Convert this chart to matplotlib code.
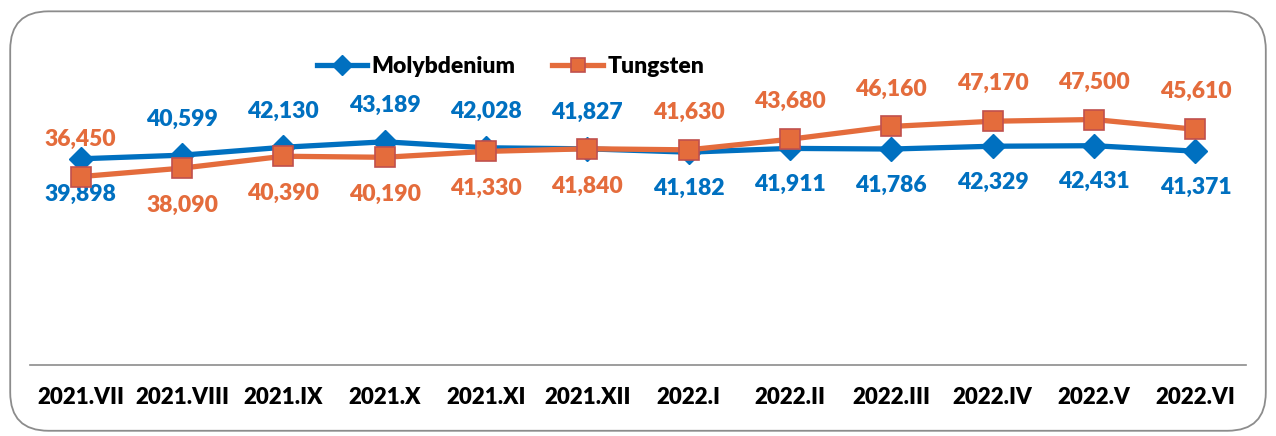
import matplotlib.pyplot as plt
from matplotlib.patches import FancyBboxPatch

months = ['2021.VII', '2021.VIII', '2021.IX', '2021.X', '2021.XI', '2021.XII',
          '2022.I', '2022.II', '2022.III', '2022.IV', '2022.V', '2022.VI']
molybdenium = [39898, 40599, 42130, 43189, 42028, 41827,
               41182, 41911, 41786, 42329, 42431, 41371]
tungsten = [36450, 38090, 40390, 40190, 41330, 41840,
            41630, 43680, 46160, 47170, 47500, 45610]
# label above (True) or below (False) the marker
mo_above = [False, True, True, True, True, True,
            False, False, False, False, False, False]
tu_above = [True, False, False, False, False, False,
            True, True, True, True, True, True]

blue = '#0070C0'
orange = '#E46C3C'
fnt = 'Lato'
wt = 'heavy'

fig = plt.figure(figsize=(12.76, 4.36), dpi=100)
fig.patches.append(FancyBboxPatch((0.008, 0.012), 0.984, 0.962,
                                  boxstyle='round,pad=0,rounding_size=0.03',
                                  transform=fig.transFigure, fill=False,
                                  edgecolor='#8c8c8c', linewidth=1.3,
                                  mutation_aspect=1276 / 436))
ax = fig.add_axes([0.0235, 0.163, 0.953, 0.711])

x = list(range(len(months)))
ax.plot(x, molybdenium, color=blue, lw=3.8, marker='D', markersize=12,
        markerfacecolor=blue, markeredgecolor=blue, label='Molybdenium', zorder=3)
ax.plot(x, tungsten, color=orange, lw=3.8, marker='s', markersize=14,
        markerfacecolor=orange, markeredgecolor='#C0504D', markeredgewidth=1.2,
        label='Tungsten', zorder=4)

for i in x:
    ax.annotate(f'{molybdenium[i]:,}', (i, molybdenium[i]),
                xytext=(0, 26 if mo_above[i] else -26), textcoords='offset points',
                ha='center', va='center', color=blue, fontsize=16.5,
                fontweight=wt, family=fnt)
    ax.annotate(f'{tungsten[i]:,}', (i, tungsten[i]),
                xytext=(0, 27 if tu_above[i] else -27), textcoords='offset points',
                ha='center', va='center', color=orange, fontsize=16.5,
                fontweight=wt, family=fnt)

ax.set_xlim(-0.5, 11.5)
ax.set_ylim(0, 60000)
ax.set_xticks(x)
ax.set_xticklabels(months, fontsize=16, fontweight=wt, family=fnt)
ax.tick_params(axis='x', length=0, pad=16)
ax.set_yticks([])
for s in ['top', 'left', 'right']:
    ax.spines[s].set_visible(False)
ax.spines['bottom'].set_color('#8c8c8c')
ax.spines['bottom'].set_linewidth(1.2)

leg = fig.legend(loc='center', bbox_to_anchor=(0.40, 0.848), ncol=2, frameon=False,
                 prop={'family': fnt, 'weight': wt, 'size': 16.5},
                 handlelength=2.2, columnspacing=1.6, handletextpad=0.2)
for h in leg.legend_handles:
    h.set_markersize(10)

fig.savefig('out.png', dpi=100)
